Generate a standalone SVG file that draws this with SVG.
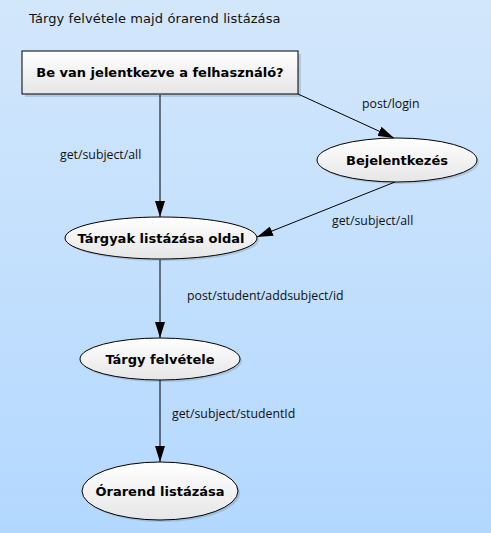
<svg xmlns="http://www.w3.org/2000/svg" width="491" height="533" viewBox="0 0 491 533">
<defs>
<linearGradient id="bg" x1="0" y1="0" x2="0" y2="1">
<stop offset="0" stop-color="#d3e7fb"/>
<stop offset="1" stop-color="#b3d8ff"/>
</linearGradient>
<linearGradient id="nodefill" x1="0" y1="0" x2="0" y2="1">
<stop offset="0" stop-color="#ffffff"/>
<stop offset="1" stop-color="#e6e6e6"/>
</linearGradient>
<marker id="ah" viewBox="0 0 16 10" refX="16" refY="5" markerWidth="16" markerHeight="10" markerUnits="userSpaceOnUse" orient="auto">
<path d="M0,0 L16,5 L0,10 Z" fill="#000"/>
</marker>
</defs>
<style>
.node{fill:url(#nodefill);stroke:#000;stroke-width:1}
.shadow{fill:#000;opacity:0.12}
.nt{font-family:"DejaVu Sans",Verdana,sans-serif;font-weight:bold;font-size:13px;text-anchor:middle;fill:#000}
.lbl{font-family:"Open Sans","Liberation Sans",sans-serif;font-size:12.3px;fill:#111}
.edge{stroke:#000;stroke-width:1;fill:none;marker-end:url(#ah)}
.title{font-family:"DejaVu Sans",Verdana,sans-serif;font-size:13px;fill:#111;letter-spacing:0.1px}
</style>
<rect width="491" height="533" fill="url(#bg)"/>
<text class="title" x="29" y="23">Tárgy felvétele majd órarend listázása</text>
<g id="connectors">
<line class="edge" x1="160" y1="95" x2="160" y2="217"/>
<text class="lbl" x="60" y="159">get/subject/all</text>
<line class="edge" x1="298" y1="94" x2="394" y2="138"/>
<text class="lbl" x="362" y="108">post/login</text>
<line class="edge" x1="395" y1="182" x2="257" y2="237"/>
<text class="lbl" x="332" y="225">get/subject/all</text>
<line class="edge" x1="160" y1="260" x2="160" y2="338"/>
<text class="lbl" x="187" y="300">post/student/addsubject/id</text>
<line class="edge" x1="160" y1="380" x2="160" y2="462"/>
<text class="lbl" x="172" y="418">get/subject/studentId</text>
</g>
<g id="n_check">
<rect class="shadow" x="25" y="54" width="276" height="43"/>
<rect class="node" x="22" y="51" width="276" height="43"/>
<text class="nt" x="160" y="77">Be van jelentkezve a felhasználó?</text>
</g>
<g id="n_login">
<ellipse class="shadow" cx="399" cy="162" rx="80" ry="22"/>
<ellipse class="node" cx="397" cy="160" rx="80" ry="22"/>
<text class="nt" x="397" y="165">Bejelentkezés</text>
</g>
<g id="n_list">
<ellipse class="shadow" cx="163" cy="240" rx="96" ry="21"/>
<ellipse class="node" cx="161" cy="238" rx="96" ry="21"/>
<text class="nt" x="161" y="243">Tárgyak listázása oldal</text>
</g>
<g id="n_add">
<ellipse class="shadow" cx="162" cy="361" rx="80" ry="21"/>
<ellipse class="node" cx="160" cy="359" rx="80" ry="21"/>
<text class="nt" x="160" y="364">Tárgy felvétele</text>
</g>
<g id="n_timetable">
<ellipse class="shadow" cx="162" cy="493" rx="78" ry="29"/>
<ellipse class="node" cx="160" cy="491" rx="78" ry="29"/>
<text class="nt" x="160" y="496">Órarend listázása</text>
</g>
</svg>
